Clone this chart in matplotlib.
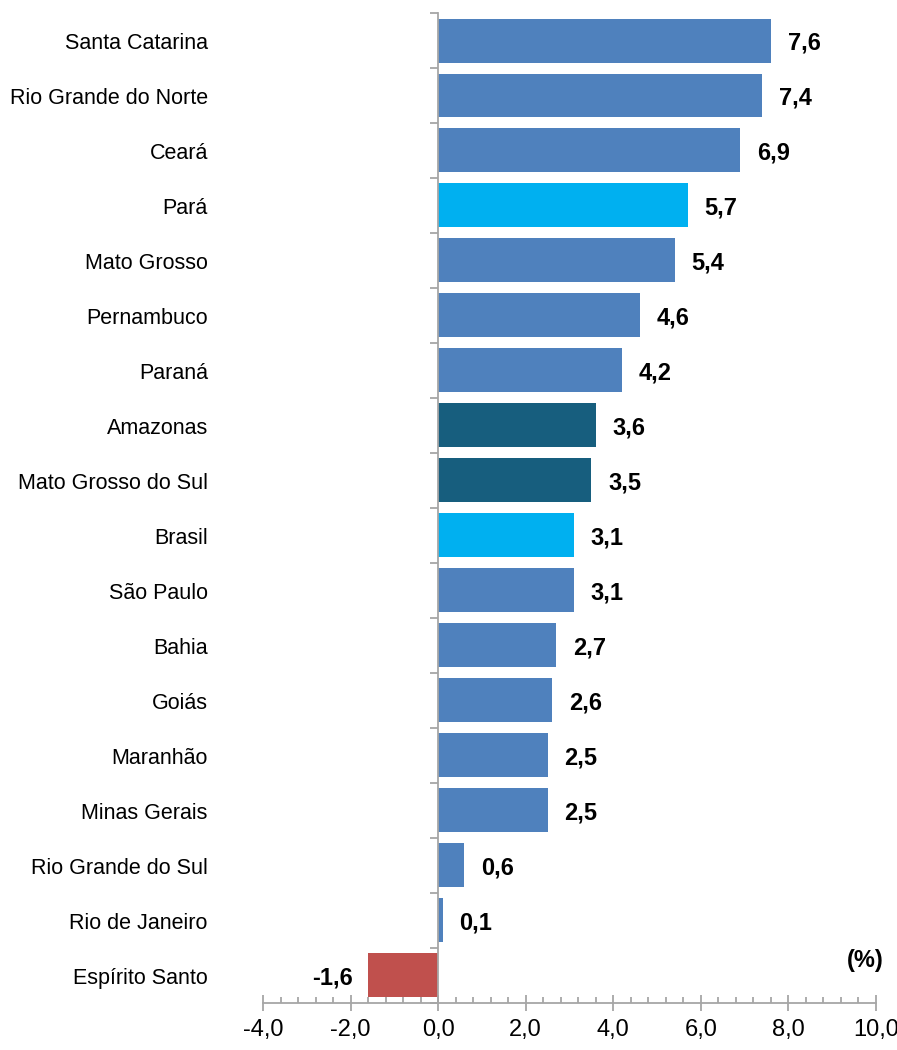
import matplotlib.pyplot as plt
from matplotlib.ticker import FixedLocator, FuncFormatter, MultipleLocator
from matplotlib import font_manager

states = ["Santa Catarina", "Rio Grande do Norte", "Ceará", "Pará", "Mato Grosso",
          "Pernambuco", "Paraná", "Amazonas", "Mato Grosso do Sul", "Brasil",
          "São Paulo", "Bahia", "Goiás", "Maranhão", "Minas Gerais",
          "Rio Grande do Sul", "Rio de Janeiro", "Espírito Santo"]
values = [7.6, 7.4, 6.9, 5.7, 5.4, 4.6, 4.2, 3.6, 3.5, 3.1, 3.1, 2.7, 2.6, 2.5, 2.5, 0.6, 0.1, -1.6]

BLUE = "#4F81BD"
CYAN = "#00B0F0"
TEAL = "#175E7E"
RED = "#C0504D"
highlight = {"Pará": CYAN, "Brasil": CYAN, "Amazonas": TEAL, "Mato Grosso do Sul": TEAL}
colors = []
for s, v in zip(states, values):
    if v < 0:
        colors.append(RED)
    else:
        colors.append(highlight.get(s, BLUE))

names = {f.name for f in font_manager.fontManager.ttflist}
narrow = "Liberation Sans Narrow" in names
family = ["Liberation Sans Narrow", "DejaVu Sans"] if narrow else ["Liberation Sans", "DejaVu Sans"]
plt.rcParams["font.family"] = family
cat_size = 17 if narrow else 15.5

fig = plt.figure(figsize=(8.97, 10.5), dpi=100)
ax = fig.add_axes([0.2932, 0.0450, 0.6834, 0.9426])

y = list(range(len(states)))
ax.barh(y, values, height=0.8, color=colors, zorder=2)

ax.set_xlim(-4, 10)
ax.set_ylim(len(states) - 0.5, -0.5)

for side in ["top", "right"]:
    ax.spines[side].set_visible(False)
ax.spines["left"].set_position(("data", 0))
for side in ["left", "bottom"]:
    ax.spines[side].set_color("#A6A6A6")
    ax.spines[side].set_linewidth(1.3)
    ax.spines[side].set_zorder(3)

ax.yaxis.set_major_locator(FixedLocator([i - 0.5 for i in range(len(states) + 1)]))
ax.yaxis.set_major_formatter(FuncFormatter(lambda v, p: ""))
ax.tick_params(axis="y", direction="out", length=6, width=1.3, color="#A6A6A6")

ax.xaxis.set_major_locator(MultipleLocator(2))
ax.xaxis.set_minor_locator(MultipleLocator(0.4))
ax.xaxis.set_major_formatter(FuncFormatter(lambda v, p: f"{v:.1f}".replace(".", ",")))
ax.tick_params(axis="x", which="major", direction="inout", length=12, width=1.3,
               color="#A6A6A6", labelsize=17, pad=6)
ax.tick_params(axis="x", which="minor", direction="in", length=4, width=1.3, color="#A6A6A6")

for yi, s in zip(y, states):
    ax.text(-0.09, yi + 0.05, s, transform=ax.get_yaxis_transform(), ha="right", va="center",
            fontsize=cat_size)

for yi, v in zip(y, values):
    lbl = f"{v:.1f}".replace(".", ",")
    if v >= 0:
        ax.text(v + 0.38, yi + 0.05, lbl, ha="left", va="center", fontsize=17, fontweight="bold")
    else:
        ax.text(v - 0.35, yi + 0.05, lbl, ha="right", va="center", fontsize=17, fontweight="bold")

ax.text(1.012, 0.043, "(%)", transform=ax.transAxes, ha="right", va="center",
        fontsize=17, fontweight="bold")

fig.savefig("out.png", dpi=100)
